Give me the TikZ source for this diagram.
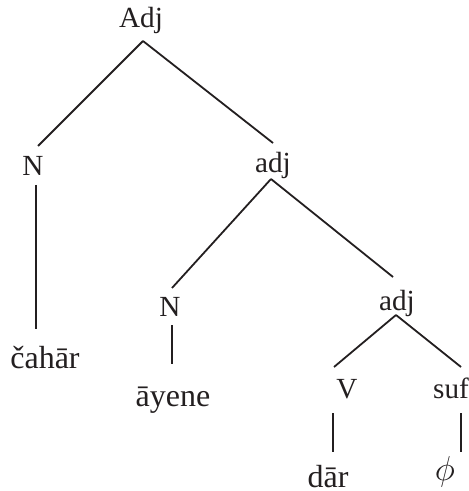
\documentclass[tikz,border=0pt]{standalone}
\usepackage{fontspec}
\setmainfont{Liberation Serif}
\usetikzlibrary{calc}
\definecolor{ink}{HTML}{231F20}
\begin{document}
\begin{tikzpicture}[x=0.5pt,y=-0.5pt,
  lab/.style={anchor=base,inner sep=0pt,text=ink,font=\fontsize{14.6}{16}\selectfont},
  leaf/.style={anchor=base,inner sep=0pt,text=ink,font=\fontsize{16}{18}\selectfont},
  edge/.style={draw=ink,line width=0.9pt}]
\useasboundingbox (0,0) rectangle (468,491);
\node[lab] (Adj) at (141,28) {Adj};
\node[lab] (N1) at (33,176) {N};
\node[lab] (adj2) at (273,173) {adj};
\node[lab] (N2) at (170,316) {N};
\node[lab] (adj3) at (397,310) {adj};
\node[leaf] (cahar) at (45,368) {čahār};
\node[leaf] (ayene) at (173,406) {āyene};
\node[lab] (V) at (347,398) {V};
\node[lab] (suf) at (451,398) {suf};
\node[leaf] (dar) at (328,487) {dār};
\node[leaf] (phi) at (445,480) {$\phi$};
\draw[edge] ($(Adj.base)+(2,13)$) -- ($(N1.base)+(5,-30)$);
\draw[edge] ($(Adj.base)+(2,13)$) -- ($(adj2.base)+(0,-30)$);
\draw[edge] ($(N1.base)+(3,9)$) -- ($(cahar.base)+(-9,-39)$);
\draw[edge] ($(adj2.base)+(-2,6)$) -- ($(N2.base)+(2,-28)$);
\draw[edge] ($(adj2.base)+(-2,6)$) -- ($(adj3.base)+(-4,-33)$);
\draw[edge] ($(N2.base)+(2,9)$) -- ($(ayene.base)+(-1,-42)$);
\draw[edge] ($(adj3.base)+(-1,5)$) -- ($(V.base)+(-13,-31)$);
\draw[edge] ($(adj3.base)+(-1,5)$) -- ($(suf.base)+(10,-31)$);
\draw[edge] ($(V.base)+(-14,15)$) -- ($(dar.base)+(5,-35)$);
\draw[edge] ($(suf.base)+(10,15)$) -- ($(phi.base)+(16,-28)$);
\end{tikzpicture}
\end{document}
